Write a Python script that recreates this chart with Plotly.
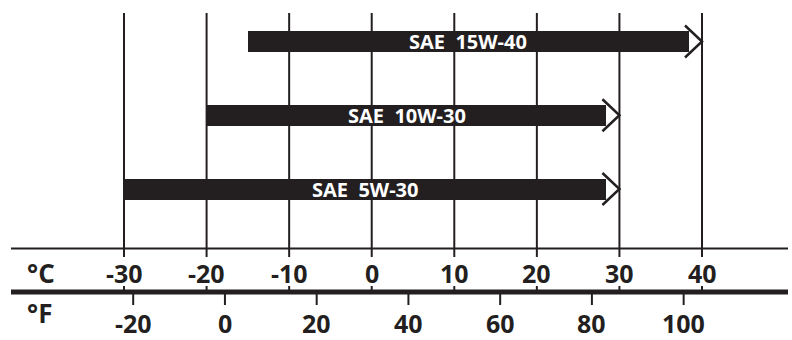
import plotly.graph_objects as go

# ---- data ----
GRADES = ["SAE 15W-40", "SAE 10W-30", "SAE 5W-30"]
LOW_C = [-15, -20, -30]
HIGH_C = [40, 30, 30]
C_TICKS = [-30, -20, -10, 0, 10, 20, 30, 40]
F_TICKS = [-20, 0, 20, 40, 60, 80, 100]

# ---- layout constants (pixel-like y axis) ----
W, H = 792, 340
X_MIN, X_MAX = -45.02, 50.9
PX_PER_C = W / (X_MAX - X_MIN)
ROW0, ROW_STEP, BAR_H = 41.5, 73.75, 21
GRID_TOP, THIN_Y, GRID_BOTTOM = 13, 248.5, 257
THICK_Y = 292
C_LABEL_Y, F_LABEL_Y = 273, 323
INK = "#231f20"
FONT = "Open Sans"

BODY_GAP = 13 / PX_PER_C     # bar body ends before arrow tip
ARM_DX = 17 / PX_PER_C
ARM_DY = 16

rows = [ROW0 + i * ROW_STEP for i in range(len(GRADES))]
body_len = [h - l - BODY_GAP for l, h in zip(LOW_C, HIGH_C)]

fig = go.Figure()

shapes = []
# vertical grid lines at Celsius values
for c in C_TICKS:
    shapes.append(dict(type="line", xref="x", yref="y", x0=c, x1=c, y0=GRID_TOP, y1=GRID_BOTTOM,
                       line=dict(color=INK, width=2), layer="below"))
    # small tick above thick line
    shapes.append(dict(type="line", xref="x", yref="y", x0=c, x1=c, y0=286, y1=THICK_Y,
                       line=dict(color=INK, width=2)))
# Fahrenheit ticks below thick line
for f in F_TICKS:
    c = (f - 32) * 5 / 9
    shapes.append(dict(type="line", xref="x", yref="y", x0=c, x1=c, y0=THICK_Y, y1=305,
                       line=dict(color=INK, width=2)))
# thin and thick horizontal lines
shapes.append(dict(type="line", xref="paper", yref="y", x0=11 / W, x1=788 / W, y0=THIN_Y, y1=THIN_Y,
                   line=dict(color=INK, width=2)))
shapes.append(dict(type="line", xref="paper", yref="y", x0=11 / W, x1=788 / W, y0=THICK_Y, y1=THICK_Y,
                   line=dict(color=INK, width=5)))

# bars
fig.add_trace(go.Bar(
    orientation="h", base=LOW_C, x=body_len, y=rows, width=BAR_H,
    marker=dict(color=INK, line=dict(width=0)), hoverinfo="skip", showlegend=False,
))

# arrow chevrons
ax, ay = [], []
for h, yc in zip(HIGH_C, rows):
    ax += [h - ARM_DX, h, h - ARM_DX, None]
    ay += [yc - ARM_DY, yc, yc + ARM_DY, None]
fig.add_trace(go.Scatter(x=ax, y=ay, mode="lines", line=dict(color=INK, width=2.5),
                         hoverinfo="skip", showlegend=False))

annotations = []
for g, l, bl, yc in zip(GRADES, LOW_C, body_len, rows):
    annotations.append(dict(x=l + bl / 2, y=yc, xref="x", yref="y", text=g.replace(" ", "\u00a0\u00a0"),
                            showarrow=False, xanchor="center", yanchor="middle",
                            font=dict(family=FONT, size=20, color="white", weight="bold")))
for c in C_TICKS:
    annotations.append(dict(x=c, y=C_LABEL_Y, xref="x", yref="y", text=str(c), showarrow=False,
                            xanchor="center", yanchor="middle",
                            font=dict(family=FONT, size=25, color=INK, weight="bold")))
for f in F_TICKS:
    annotations.append(dict(x=(f - 32) * 5 / 9, y=F_LABEL_Y, xref="x", yref="y", text=str(f),
                            showarrow=False, xanchor="center", yanchor="middle",
                            font=dict(family=FONT, size=25, color=INK, weight="bold")))
annotations.append(dict(x=41 / W, y=C_LABEL_Y, xref="paper", yref="y", text="°C", showarrow=False,
                        xanchor="center", yanchor="middle",
                        font=dict(family=FONT, size=26, color=INK, weight="bold")))
annotations.append(dict(x=39 / W, y=313, xref="paper", yref="y", text="°F", showarrow=False,
                        xanchor="center", yanchor="middle",
                        font=dict(family=FONT, size=26, color=INK, weight="bold")))

fig.update_layout(
    width=W, height=H, margin=dict(l=0, r=0, t=0, b=0),
    paper_bgcolor="white", plot_bgcolor="white",
    xaxis=dict(range=[X_MIN, X_MAX], visible=False, fixedrange=True),
    yaxis=dict(range=[H, 0], visible=False, fixedrange=True),
    shapes=shapes, annotations=annotations, bargap=0,
)

fig.write_html("out.html")
